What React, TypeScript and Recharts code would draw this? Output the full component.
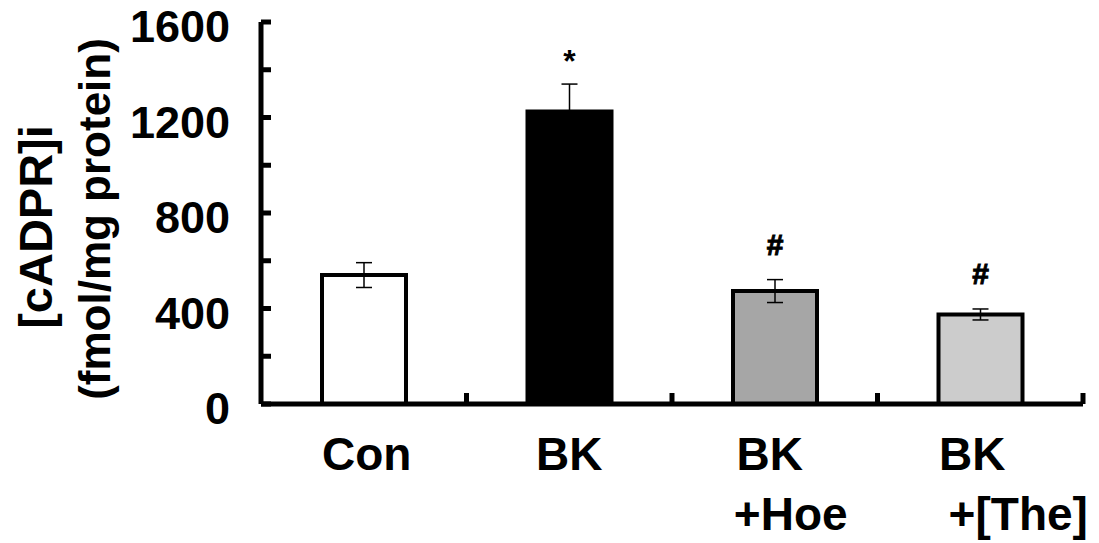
import React from "react";
import { BarChart, Bar, XAxis, YAxis, Cell, ErrorBar, LabelList } from "recharts";

const categories = ["Con", "BK", "BK+Hoe", "BK+[The]"];
const labelLines = [["Con"], ["BK"], ["BK", "+Hoe"], ["BK", "+[The]"]];
const values = [540, 1225, 473, 375];
const errors = [52, 115, 48, 23];
const marks = ["", "*", "#", "#"];
const fills = ["#ffffff", "#000000", "#a6a6a6", "#cccccc"];
const yTicks = [0, 200, 400, 600, 800, 1000, 1200, 1400, 1600];
const yTickLabels = ["0", "", "400", "", "800", "", "1200", "", "1600"];

const data = categories.map((name, i) => ({
  name,
  value: values[i],
  err: errors[i],
  mark: marks[i],
}));

const FONT = "'Liberation Sans', Arial, sans-serif";
const PLOT_W = 822;
const BAND = PLOT_W / categories.length;
// small horizontal nudges of each label line, as in the original layout
const lineShift = [[3], [0], [-5, 16], [-8, 38]];

function YTick({ x, y, payload }: any) {
  const i = yTicks.indexOf(payload.value);
  return (
    <g>
      <line x1={x} y1={y} x2={x + 10} y2={y} stroke="#000" strokeWidth={5} />
      <text
        x={x - 31}
        y={y + 20}
        textAnchor="end"
        fontFamily={FONT}
        fontWeight="bold"
        fontSize={45}
        fill="#000"
      >
        {yTickLabels[i]}
      </text>
    </g>
  );
}

function XTick({ x, y, index }: any) {
  const lines = labelLines[index] || [];
  const bx = x + BAND / 2;
  return (
    <g>
      <line x1={bx} y1={y} x2={bx} y2={y - 11} stroke="#000" strokeWidth={5} />
      {lines.map((t, k) => (
        <text
          key={k}
          x={x + lineShift[index][k]}
          y={y + 66 + k * 60}
          textAnchor="middle"
          fontFamily={FONT}
          fontWeight="bold"
          fontSize={46}
          fill="#000"
        >
          {t}
        </text>
      ))}
    </g>
  );
}

function MarkLabel({ x, y, width, height, index }: any) {
  const m = marks[index];
  if (!m) return null;
  const errTop = y - (errors[index] * height) / values[index];
  const isStar = m === "*";
  return (
    <text
      x={x + width / 2}
      y={isStar ? errTop - 12 : errTop - 25}
      textAnchor="middle"
      fontFamily={FONT}
      fontWeight="bold"
      fontSize={isStar ? 32 : 30}
      fill="#000"
      stroke="#000"
      strokeWidth={isStar ? 0 : 1}
    >
      {m}
    </text>
  );
}

function YLabel() {
  return (
    <g fontFamily={FONT} fontWeight="bold" fill="#000">
      <text x={52} y={227} transform="rotate(-90 52 227)" textAnchor="middle" fontSize={47}>
        [cADPR]i
      </text>
      <text x={110} y={219} transform="rotate(-90 110 219)" textAnchor="middle" fontSize={44}>
        (fmol/mg protein)
      </text>
    </g>
  );
}

export default function App() {
  return (
    <div style={{ position: "absolute", left: 0, top: 0, width: 1099, height: 543, background: "#fff" }}>
      <BarChart
        width={1099}
        height={543}
        data={data}
        margin={{ top: 22, right: 16, bottom: 109, left: 200 }}
      >
        <Bar
          dataKey="value"
          barSize={84}
          stroke="#000"
          strokeWidth={4}
          isAnimationActive={false}
        >
          {data.map((d, i) => (
            <Cell key={d.name} fill={fills[i]} />
          ))}
          <ErrorBar dataKey="err" width={8} stroke="#000" strokeWidth={1.5} direction="y" />
          <LabelList dataKey="mark" content={<MarkLabel />} />
        </Bar>
        <XAxis
          dataKey="name"
          height={30}
          interval={0}
          tickSize={0}
          tickMargin={0}
          tickLine={false}
          stroke="#000"
          strokeWidth={5}
          axisLine={{ stroke: "#000", strokeWidth: 5 }}
          tick={<XTick />}
        />
        <YAxis
          width={61}
          domain={[0, 1600]}
          ticks={yTicks}
          interval={0}
          tickSize={0}
          tickMargin={0}
          tickLine={false}
          stroke="#000"
          strokeWidth={5}
          axisLine={{ stroke: "#000", strokeWidth: 5 }}
          tick={<YTick />}
          label={{ content: () => <YLabel /> }}
        />
      </BarChart>
    </div>
  );
}
